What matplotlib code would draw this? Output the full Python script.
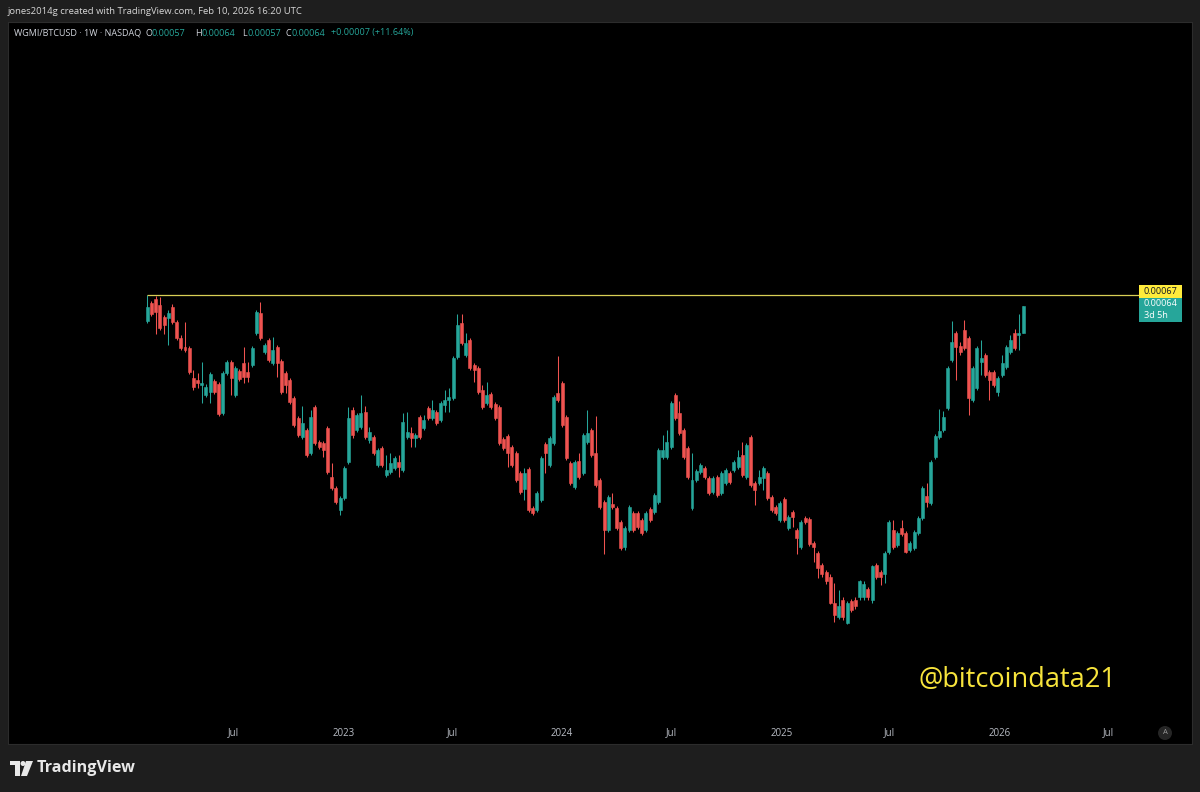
import datetime as dt
import matplotlib
matplotlib.use("Agg")
import matplotlib.pyplot as plt
import matplotlib.dates as mdates
from matplotlib.patches import Rectangle, Ellipse, Polygon
import numpy as np

# weekly WGMI/BTCUSD candles, prices in units of 1e-5 BTC
start = dt.date(2022, 2, 7)

opens = [
    59.9, 64.7, 65.9, 64.2, 61.0, 60.7, 63.6, 59.7, 55.7, 53.6,
    53.4, 46.9, 46.5, 45.5, 43.6, 44.2, 46.3, 45.7, 40.4, 47.9,
    50.3, 43.6, 48.4, 50.0, 48.1, 49.6, 56.9, 62.0, 52.5, 55.2,
    50.0, 53.6, 50.5, 47.9, 46.5, 43.1, 39.5, 36.4, 37.5, 34.0,
    41.4, 35.7, 35.5, 37.9, 30.7, 29.3, 26.6, 28.0, 32.7, 40.9,
    37.5, 38.0, 40.6, 36.0, 36.4, 32.3, 34.7, 31.0, 31.4, 31.9,
    32.7, 31.6, 36.4, 37.1, 36.3, 39.7, 37.9, 41.3, 39.5, 40.6,
    39.2, 41.8, 42.7, 43.1, 51.4, 59.4, 51.8, 55.2, 49.6, 49.0,
    44.6, 42.2, 43.8, 42.0, 41.4, 36.1, 36.6, 34.9, 34.0, 31.2,
    29.1, 31.8, 26.9, 26.6, 27.8, 35.4, 32.3, 35.5, 44.0, 45.9,
    39.7, 32.6, 29.4, 32.9, 31.2, 35.7, 37.5, 34.0, 30.3, 27.6,
    24.4, 27.3, 26.9, 25.3, 22.7, 24.4, 26.3, 26.3, 25.5, 24.4,
    26.7, 26.4, 27.6, 33.4, 33.4, 34.9, 43.6, 40.4, 37.5, 34.7,
    26.9, 30.3, 31.4, 31.9, 30.5, 28.8, 30.7, 28.6, 29.9, 31.2,
    31.6, 32.0, 33.7, 30.7, 36.4, 29.9, 29.9, 30.5, 31.2, 28.2,
    27.0, 25.5, 27.9, 24.7, 26.4, 24.4, 22.7, 25.7, 25.6, 23.1,
    22.1, 21.0, 20.4, 20.0, 17.9, 16.8, 18.1, 16.4, 18.0, 18.1,
    18.3, 18.3, 19.0, 18.1, 21.0, 20.4, 20.2, 22.2, 24.4, 22.9,
    24.7, 24.1, 22.4, 22.6, 24.1, 25.7, 28.3, 27.4, 33.4, 36.4,
    37.5, 41.3, 50.7, 56.9, 53.8, 57.7, 55.7, 42.7, 44.9, 50.3,
    51.8, 48.1, 48.1, 44.2, 47.5, 49.2, 52.5, 56.9, 56.4, 57.0,
]
highs = [
    67.0, 65.3, 66.7, 66.4, 61.5, 62.8, 64.5, 60.2, 56.4, 59.7,
    53.8, 48.6, 47.9, 50.3, 45.7, 48.1, 46.7, 46.1, 48.4, 50.7,
    50.7, 49.4, 48.8, 53.6, 50.3, 53.8, 62.8, 65.0, 54.5, 55.7,
    55.9, 54.1, 50.9, 48.4, 46.9, 43.4, 39.9, 41.6, 37.9, 40.9,
    41.8, 36.0, 35.8, 38.2, 32.6, 29.5, 28.3, 32.2, 41.4, 41.4,
    40.4, 43.6, 41.6, 38.0, 36.7, 34.7, 35.0, 33.7, 34.0, 33.6,
    33.7, 40.4, 40.6, 38.0, 37.1, 40.0, 40.0, 41.6, 42.7, 40.9,
    42.5, 44.6, 45.0, 51.6, 61.7, 61.7, 56.9, 55.7, 50.0, 49.4,
    45.5, 46.1, 44.2, 42.3, 41.8, 36.4, 36.9, 35.2, 34.3, 31.5,
    31.9, 32.0, 27.1, 28.9, 33.6, 35.7, 36.6, 43.6, 51.6, 46.3,
    40.0, 32.9, 33.0, 34.0, 37.1, 40.9, 37.9, 39.9, 30.6, 27.8,
    28.4, 28.6, 27.1, 25.5, 24.9, 27.2, 26.5, 26.5, 25.7, 26.5,
    27.0, 28.6, 34.7, 36.7, 37.5, 42.5, 44.0, 42.5, 37.9, 35.0,
    34.0, 31.8, 32.6, 32.2, 30.8, 30.8, 31.0, 31.5, 31.9, 31.5,
    33.0, 34.5, 35.6, 35.5, 36.7, 30.2, 31.6, 32.2, 31.5, 28.4,
    27.2, 27.7, 28.2, 26.1, 26.6, 24.7, 25.5, 26.0, 25.8, 23.3,
    22.3, 21.2, 20.6, 20.2, 19.5, 18.9, 18.3, 18.0, 18.2, 18.3,
    19.7, 19.6, 19.1, 21.0, 21.2, 20.6, 22.3, 25.5, 25.5, 24.3,
    25.5, 24.3, 23.3, 24.4, 25.9, 29.5, 29.9, 33.0, 36.9, 41.1,
    40.7, 49.4, 59.9, 57.4, 54.8, 60.2, 56.2, 49.4, 53.8, 55.2,
    52.2, 48.6, 48.6, 47.3, 51.8, 54.1, 56.4, 57.9, 61.7, 64.0,
]
lows = [
    59.4, 61.2, 56.7, 57.7, 56.7, 54.1, 59.2, 55.2, 52.9, 52.5,
    47.7, 44.6, 45.0, 42.2, 43.3, 42.2, 43.8, 39.9, 40.0, 47.5,
    43.6, 43.3, 46.3, 45.9, 46.1, 49.2, 56.4, 55.2, 52.0, 50.3,
    49.6, 47.1, 43.8, 44.0, 42.0, 38.0, 36.4, 36.1, 33.4, 33.7,
    35.2, 34.6, 33.4, 31.1, 29.0, 27.3, 26.1, 27.8, 32.4, 36.3,
    37.2, 37.7, 36.1, 35.5, 33.7, 32.0, 32.0, 30.7, 31.1, 31.6,
    30.7, 31.4, 36.1, 34.9, 34.9, 36.1, 37.5, 39.2, 39.2, 38.4,
    38.8, 40.6, 40.6, 42.7, 50.9, 54.1, 51.4, 48.6, 46.1, 43.8,
    41.1, 41.8, 41.1, 39.2, 35.2, 34.5, 32.0, 32.0, 30.0, 28.5,
    27.8, 26.4, 26.1, 26.4, 27.6, 31.2, 32.0, 35.2, 42.3, 38.0,
    33.0, 29.7, 29.1, 30.4, 31.0, 35.4, 33.4, 29.4, 26.7, 22.0,
    24.2, 26.7, 24.4, 22.4, 22.4, 24.2, 24.2, 24.5, 23.9, 24.2,
    25.3, 26.2, 27.3, 33.1, 33.1, 34.6, 39.2, 36.7, 33.1, 30.4,
    26.6, 30.0, 31.1, 30.4, 28.4, 28.5, 28.2, 28.4, 29.7, 29.8,
    31.4, 31.8, 30.7, 30.4, 29.4, 27.2, 29.7, 29.0, 27.8, 26.4,
    26.1, 25.3, 25.3, 24.4, 24.8, 22.0, 22.5, 25.1, 22.8, 21.3,
    19.9, 20.0, 19.4, 17.8, 16.5, 16.7, 16.6, 16.3, 17.2, 17.4,
    18.1, 18.1, 18.1, 17.9, 19.8, 19.3, 19.5, 22.0, 22.5, 22.7,
    23.8, 22.1, 22.2, 22.4, 23.9, 25.5, 27.0, 27.2, 33.1, 36.1,
    37.2, 40.9, 50.3, 46.5, 51.8, 52.9, 40.0, 42.3, 44.6, 47.5,
    47.1, 42.7, 45.1, 43.4, 47.1, 48.8, 52.0, 52.9, 52.9, 57.0,
]
closes = [
    63.6, 61.8, 62.3, 58.2, 58.9, 62.0, 59.7, 55.7, 53.4, 52.9,
    48.1, 45.1, 45.9, 45.9, 45.1, 47.7, 44.2, 40.2, 47.9, 50.3,
    46.9, 49.0, 46.7, 47.1, 47.1, 53.4, 62.3, 55.7, 54.1, 50.7,
    52.9, 50.0, 44.2, 45.5, 42.3, 38.4, 36.7, 38.7, 33.7, 39.7,
    35.5, 34.9, 34.5, 31.4, 29.3, 27.6, 28.0, 31.9, 39.5, 36.7,
    40.0, 40.4, 36.4, 37.2, 34.0, 34.5, 32.3, 31.6, 32.6, 33.3,
    32.0, 38.8, 37.2, 36.3, 36.7, 36.4, 39.2, 39.5, 40.9, 38.7,
    42.1, 42.7, 43.3, 51.1, 58.9, 54.5, 54.5, 49.0, 48.6, 44.2,
    41.4, 43.6, 41.4, 39.5, 35.5, 34.8, 34.0, 32.3, 30.3, 28.8,
    31.2, 26.6, 26.3, 28.6, 33.3, 34.0, 36.3, 43.3, 42.7, 38.4,
    33.3, 29.9, 32.7, 30.7, 36.7, 37.1, 33.7, 29.7, 27.0, 24.4,
    28.2, 27.0, 24.7, 22.6, 24.7, 27.0, 24.4, 24.8, 24.1, 26.3,
    25.5, 28.4, 34.5, 34.5, 35.7, 42.2, 39.5, 37.1, 33.4, 30.7,
    30.3, 31.5, 32.3, 30.7, 28.6, 30.5, 28.4, 31.2, 31.6, 30.0,
    32.7, 33.4, 31.0, 35.2, 29.7, 29.0, 30.7, 31.9, 28.0, 26.6,
    26.3, 27.4, 25.5, 25.8, 25.8, 23.6, 25.3, 25.3, 23.0, 22.7,
    20.8, 20.2, 19.6, 17.9, 17.0, 17.6, 16.8, 17.9, 17.3, 17.6,
    19.6, 19.4, 18.3, 20.9, 20.0, 20.0, 22.1, 25.3, 22.7, 24.1,
    24.0, 22.2, 23.1, 24.2, 25.7, 29.3, 27.6, 32.7, 36.6, 37.4,
    39.7, 49.0, 54.8, 53.6, 52.5, 53.4, 43.1, 49.0, 53.4, 51.1,
    47.5, 46.5, 45.5, 46.9, 50.0, 53.6, 55.2, 53.4, 57.0, 64.0,
]

line_price = 67.0   # horizontal level 0.00067

tick_dates = [dt.date(2022, 7, 1), dt.date(2023, 1, 1), dt.date(2023, 7, 1),
              dt.date(2024, 1, 1), dt.date(2024, 7, 1), dt.date(2025, 1, 1),
              dt.date(2025, 7, 1), dt.date(2026, 1, 1), dt.date(2026, 7, 1)]
tick_labels = ["Jul", "2023", "Jul", "2024", "Jul", "2025", "Jul", "2026", "Jul"]

UP = "#26a69a"
DOWN = "#ef5350"

o = np.array(opens) * 1e-5
h = np.array(highs) * 1e-5
l = np.array(lows) * 1e-5
c = np.array(closes) * 1e-5
x = mdates.date2num([start + dt.timedelta(weeks=i) for i in range(len(o))])
cols = np.where(c >= o, UP, DOWN)

W, H = 1200, 792
def fx(px):
    return px / W
def fy(py):
    return 1 - py / H

plt.rcParams['font.family'] = ['Open Sans', 'DejaVu Sans']
fig = plt.figure(figsize=(12, 7.92), dpi=100, facecolor="#1e1e1e")
ax = fig.add_axes([fx(8), fy(744), (1192 - 8) / W, (744 - 22) / H])
ax.set_facecolor("black")
for s in ax.spines.values():
    s.set_color("#2c2c2c")
    s.set_linewidth(0.8)

ax.set_yscale("log")
x0 = mdates.date2num(start)
ax.set_xlim(x0 - 232.7, x0 + 1745.3)
ax.set_ylim(9.755e-5, 216.2e-5)
ax.set_xticks([])
ax.set_yticks([])
ax.yaxis.set_minor_locator(matplotlib.ticker.NullLocator())

# candles
ax.vlines(x, l, h, colors=cols, linewidth=0.75, zorder=2)
bottoms = np.minimum(o, c)
heights = np.abs(c - o)
ax.bar(x, heights, bottom=bottoms, width=5.0, color=cols, edgecolor=cols,
       linewidth=0.4, zorder=3)

# horizontal level line, ending at the price label
xa, xb = ax.get_xlim()
xr = xa + (1139 - 8) / 1184 * (xb - xa)
ax.hlines(line_price * 1e-5, x[0], xr, colors="#d8cf55", linewidth=0.9, zorder=4)

# time axis labels
for d, lab in zip(tick_dates, tick_labels):
    ax.text(mdates.date2num(d), (744 - 733) / 722, lab, transform=ax.get_xaxis_transform(),
            ha="center", va="center", fontsize=7, color="#b8bcc4")

# header text
fig.text(fx(8), fy(11), "jones2014g created with TradingView.com, Feb 10, 2026 16:20 UTC",
         ha="left", va="center", fontsize=6.8, color="#d6d6d6")

legend_parts = [
    (14, "WGMI/BTCUSD \u00b7 1W \u00b7 NASDAQ", "#d1d4dc"),
    (145, "O", "#d1d4dc"), (151, "0.00057", UP),
    (195, "H", "#d1d4dc"), (201, "0.00064", UP),
    (242, "L", "#d1d4dc"), (248, "0.00057", UP),
    (285, "C", "#d1d4dc"), (292, "0.00064", UP),
    (331, "+0.00007 (+11.64%)", UP),
]
for px, txt, col in legend_parts:
    fig.text(fx(px), fy(33), txt, ha="left", va="center", fontsize=6.45, color=col)

# price labels on the right
fig.add_artist(Rectangle((fx(1139), fy(298)), 43 / W, 13 / H, transform=fig.transFigure,
                         facecolor="#ffeb3b", edgecolor="none"))
fig.text(fx(1144), fy(291.5), "0.00067", ha="left", va="center", fontsize=6.6, color="#131722")
fig.add_artist(Rectangle((fx(1139), fy(322)), 43 / W, 24 / H, transform=fig.transFigure,
                         facecolor=UP, edgecolor="none"))
fig.text(fx(1144), fy(304), "0.00064", ha="left", va="center", fontsize=6.6, color="white")
fig.text(fx(1144), fy(315.5), "3d 5h", ha="left", va="center", fontsize=6.6, color="white")

# auto scale button
fig.add_artist(Ellipse((fx(1165), fy(733)), 14 / W, 14 / H, transform=fig.transFigure,
                       facecolor="#262626", edgecolor="none"))
fig.text(fx(1165), fy(733), "A", ha="center", va="center", fontsize=5.5, color="#9a9a9a")

# watermark
fig.text(fx(918), fy(680), "@bitcoindata21", ha="left", va="center", fontsize=19.5,
         color="#f7e43c")

# TradingView logo
logo = "#e8e8e8"
fig.add_artist(Polygon([(fx(10), fy(761)), (fx(20), fy(761)), (fx(20), fy(776)),
                        (fx(15), fy(776)), (fx(15), fy(765)), (fx(10), fy(765))],
                       closed=True, transform=fig.transFigure, facecolor=logo, edgecolor="none"))
fig.add_artist(Ellipse((fx(23), fy(763.5)), 5 / W, 5 / H, transform=fig.transFigure,
                       facecolor=logo, edgecolor="none"))
fig.add_artist(Polygon([(fx(26), fy(761)), (fx(33), fy(761)), (fx(27), fy(776)), (fx(21), fy(776))],
                       closed=True, transform=fig.transFigure, facecolor=logo, edgecolor="none"))
fig.text(fx(37), fy(768), "TradingView", ha="left", va="center", fontsize=11.6,
         fontweight="bold", color=logo)

fig.savefig("out.png", dpi=100, facecolor=fig.get_facecolor())
